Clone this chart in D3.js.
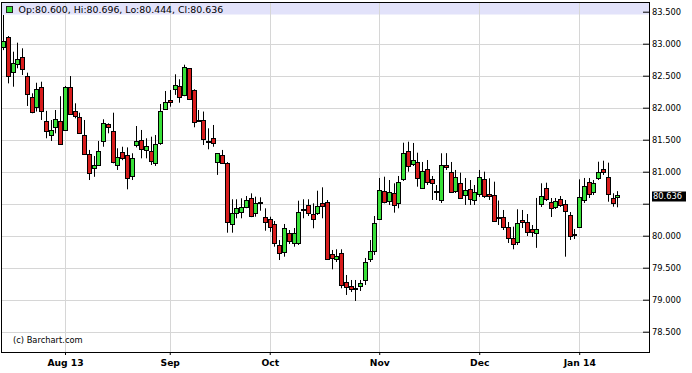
<!DOCTYPE html>
<html>
<head>
<meta charset="utf-8">
<script src="https://cdn.jsdelivr.net/npm/d3@7"></script>
<style>
  body { margin: 0; background: #fff; }
  text { font-family: "DejaVu Sans", Verdana, sans-serif; }
</style>
</head>
<body>
<script>
// daily OHLC, one bar per trading day starting Mon 15 Jul 2013
var startDay = '2013-07-15';
var holidays = ['2013-12-25', '2014-01-01'];

var open = [
  82.953, 83.100, 82.553, 82.683, 82.788, 82.495, 82.163, 82.006, 82.328, 81.797,
  81.569, 81.694, 81.797, 81.663, 82.328, 81.944, 81.850, 81.569, 81.275, 81.058,
  81.100, 81.480, 81.740, 81.636, 81.116, 81.303, 81.256, 80.922, 81.413, 81.495,
  81.328, 81.328, 81.131, 81.444, 81.975, 82.116, 82.288, 82.339, 82.194, 82.616,
  82.277, 81.808, 81.808, 81.480, 81.527, 81.141, 81.261, 81.141, 80.183, 80.350,
  80.375, 80.444, 80.594, 80.350, 80.516, 80.288, 80.256, 80.183, 79.855, 79.735,
  80.038, 79.891, 79.881, 80.402, 80.480, 80.339, 80.350, 80.516, 80.531, 79.714,
  79.641, 79.725, 79.272, 79.214, 79.178, 79.214, 79.319, 79.631, 79.750, 80.256,
  80.699, 80.542, 80.663, 80.516, 80.881, 81.328, 81.121, 81.156, 80.756, 81.038,
  80.881, 80.703, 80.558, 81.105, 80.999, 80.688, 80.828, 80.636, 80.725, 80.569,
  80.647, 80.881, 80.647, 80.636, 80.292, 80.288, 80.131, 79.969, 79.894, 80.245,
  80.214, 80.100, 80.031, 80.488, 80.741, 80.531, 80.444, 80.569, 80.495, 80.319,
  80.011, 80.141, 80.558, 80.844, 80.672, 80.913, 81.038, 80.913, 80.585, 80.600
];
var high = [
  83.449, 83.120, 82.875, 83.016, 82.928, 82.547, 82.225, 82.390, 82.406, 81.950,
  81.808, 81.964, 82.180, 82.340, 82.495, 82.069, 81.922, 81.808, 81.340, 81.245,
  81.480, 81.819, 81.756, 81.922, 81.366, 81.390, 81.380, 81.288, 81.714, 81.652,
  81.522, 81.547, 81.573, 82.058, 82.261, 82.277, 82.522, 82.444, 82.672, 82.620,
  82.288, 81.964, 81.940, 81.678, 81.730, 81.290, 81.340, 81.150, 80.569, 80.569,
  80.584, 80.620, 80.662, 80.610, 80.600, 80.428, 80.297, 80.230, 79.933, 80.183,
  80.089, 80.120, 80.547, 80.569, 80.569, 80.506, 80.703, 80.756, 80.558, 79.777,
  79.788, 79.788, 79.386, 79.308, 79.308, 79.308, 79.652, 79.933, 80.308, 80.902,
  80.922, 80.870, 80.819, 80.933, 81.453, 81.469, 81.449, 81.297, 81.152, 81.183,
  80.933, 80.792, 81.288, 81.290, 81.152, 81.027, 80.985, 80.902, 80.870, 80.792,
  81.027, 81.000, 80.897, 80.844, 80.550, 80.402, 80.214, 80.141, 80.413, 80.402,
  80.339, 80.167, 80.590, 80.819, 80.828, 80.589, 80.589, 80.620, 80.558, 80.370,
  80.105, 80.881, 80.902, 80.902, 80.870, 81.156, 81.172, 81.141, 80.663, 80.696
];
var low = [
  82.900, 82.380, 82.328, 82.616, 82.511, 82.027, 81.913, 81.940, 81.808, 81.522,
  81.480, 81.600, 81.428, 81.650, 81.886, 81.834, 81.590, 81.261, 80.870, 80.920,
  81.090, 81.390, 81.600, 81.131, 81.027, 81.180, 80.725, 80.870, 81.380, 81.209,
  81.209, 81.105, 81.090, 81.420, 81.970, 82.016, 82.200, 82.078, 82.180, 82.120,
  81.694, 81.777, 81.417, 81.350, 81.390, 80.950, 81.130, 80.047, 80.047, 80.272,
  80.272, 80.430, 80.290, 80.297, 80.390, 80.078, 80.060, 79.828, 79.620, 79.672,
  79.870, 79.828, 79.855, 80.272, 80.308, 80.116, 80.324, 80.272, 79.621, 79.475,
  79.589, 79.178, 79.074, 79.120, 78.980, 79.136, 79.230, 79.589, 79.699, 80.245,
  80.506, 80.480, 80.360, 80.428, 80.855, 81.000, 81.089, 80.766, 80.745, 80.792,
  80.558, 80.558, 80.511, 81.027, 80.667, 80.667, 80.589, 80.480, 80.480, 80.480,
  80.605, 80.590, 80.558, 80.214, 80.167, 80.089, 79.886, 79.788, 79.855, 80.120,
  79.995, 79.980, 79.810, 80.449, 80.542, 80.292, 80.417, 80.449, 79.672, 79.933,
  79.948, 80.120, 80.511, 80.589, 80.636, 80.870, 80.949, 80.531, 80.453, 80.444
];
var close = [
  83.047, 82.495, 82.694, 82.766, 82.600, 82.209, 81.922, 82.288, 81.953, 81.641,
  81.652, 81.819, 81.444, 82.328, 81.902, 81.859, 81.600, 81.277, 80.975, 81.110,
  81.319, 81.756, 81.700, 81.147, 81.234, 81.214, 80.897, 81.209, 81.480, 81.350,
  81.397, 81.167, 81.428, 81.950, 82.089, 82.078, 82.355, 82.172, 82.631, 82.136,
  81.780, 81.800, 81.506, 81.482, 81.444, 81.288, 81.141, 80.219, 80.359, 80.428,
  80.453, 80.558, 80.313, 80.506, 80.522, 80.203, 80.131, 79.891, 79.735, 80.116,
  79.906, 80.047, 80.370, 80.410, 80.350, 80.256, 80.464, 80.464, 79.647, 79.647,
  79.683, 79.230, 79.188, 79.167, 79.183, 79.256, 79.594, 79.761, 80.194, 80.714,
  80.531, 80.688, 80.480, 80.844, 81.288, 81.089, 81.183, 80.913, 81.016, 80.828,
  80.819, 80.706, 81.100, 81.078, 80.688, 80.913, 80.600, 80.714, 80.569, 80.688,
  80.913, 80.610, 80.610, 80.225, 80.288, 80.131, 79.960, 79.881, 80.194, 80.210,
  80.063, 80.050, 80.100, 80.613, 80.569, 80.444, 80.538, 80.480, 80.386, 79.985,
  80.019, 80.610, 80.777, 80.656, 80.819, 81.000, 80.988, 80.647, 80.506, 80.636
];

var yTicks = [78.5, 79, 79.5, 80, 80.5, 81, 81.5, 82, 82.5, 83, 83.5];
var monthTicks = ['2013-08-01', '2013-09-02', '2013-10-01', '2013-11-01', '2013-12-02', '2014-01-02'];
var monthLabels = ['Aug 13', 'Sep', 'Oct', 'Nov', 'Dec', 'Jan 14'];

// trading-day keys (weekdays minus holidays), one per bar
var fmt = d3.utcFormat('%Y-%m-%d');
var dates = [];
var day = new Date(startDay + 'T00:00:00Z');
while (dates.length < close.length) {
  var wd = day.getUTCDay();
  if (wd !== 0 && wd !== 6 && holidays.indexOf(fmt(day)) < 0) dates.push(fmt(day));
  day = d3.utcDay.offset(day, 1);
}

var bars = dates.map(function(d, i) {
  return { date: d, o: open[i], h: high[i], l: low[i], c: close[i] };
});

var width = 692, height = 373;
var frame = { left: 1.5, top: 2.5, right: 649.5, bottom: 352.5 };

var svg = d3.select('body').append('svg')
  .attr('width', width)
  .attr('height', height);

var x = d3.scalePoint().domain(dates).range([3.1, 617.3]);
var y = d3.scaleLinear().domain([78.5, 83.5]).range([331.7, 11.7]);

var px = function(v) { return Math.round(v) + 0.5; };
var f3 = d3.format('.3f');
var last = bars[bars.length - 1];

// horizontal grid
svg.append('g').selectAll('line')
  .data(yTicks)
  .enter().append('line')
  .attr('x1', frame.left).attr('x2', frame.right)
  .attr('y1', function(d) { return px(y(d)); })
  .attr('y2', function(d) { return px(y(d)); })
  .attr('stroke', '#d6d6d6');

// quote band at the top
svg.append('rect')
  .attr('x', frame.left).attr('y', frame.top)
  .attr('width', frame.right - frame.left).attr('height', 12)
  .attr('fill', '#e2e2fa');

// vertical grid at month starts
svg.append('g').selectAll('line')
  .data(monthTicks)
  .enter().append('line')
  .attr('x1', function(d) { return px(x(d)); })
  .attr('x2', function(d) { return px(x(d)); })
  .attr('y1', frame.top).attr('y2', frame.bottom)
  .attr('stroke', '#d6d6d6');

// candles
var candle = svg.append('g').selectAll('g')
  .data(bars)
  .enter().append('g');

candle.append('line')
  .attr('x1', function(d) { return px(x(d.date)); })
  .attr('x2', function(d) { return px(x(d.date)); })
  .attr('y1', function(d) { return y(d.h); })
  .attr('y2', function(d) { return y(d.l); })
  .attr('stroke', '#000');

candle.append('rect')
  .attr('x', function(d) { return px(x(d.date)) - 2; })
  .attr('y', function(d) { return Math.round(y(Math.max(d.o, d.c))) + 0.5; })
  .attr('width', 4)
  .attr('height', function(d) {
    return Math.max(1, Math.round(Math.abs(y(d.o) - y(d.c))));
  })
  .attr('fill', function(d) { return d.c >= d.o ? '#38e038' : '#d81c1c'; })
  .attr('stroke', '#000');

// plot frame
svg.append('rect')
  .attr('x', frame.left).attr('y', frame.top)
  .attr('width', frame.right - frame.left)
  .attr('height', frame.bottom - frame.top)
  .attr('fill', 'none')
  .attr('stroke', '#000');

// price axis on the right
var yAxis = d3.axisRight(y)
  .tickValues(yTicks)
  .tickFormat(f3)
  .tickSizeInner(-6)
  .tickSizeOuter(0)
  .tickPadding(3);

var gy = svg.append('g')
  .attr('transform', 'translate(' + (frame.right - 0.5) + ',0)')
  .call(yAxis);
gy.select('.domain').remove();
gy.selectAll('text')
  .attr('font-family', '"DejaVu Sans", Verdana, sans-serif')
  .attr('font-size', 8.3)
  .attr('fill', '#000');
// the last-price tag covers the label next to it
gy.selectAll('.tick')
  .filter(function(d) { return Math.abs(y(d) - (y(last.c) + 1.5)) < 10; })
  .select('text').remove();

// date axis
var xAxis = d3.axisBottom(x)
  .tickValues(monthTicks)
  .tickFormat(function(d) { return monthLabels[monthTicks.indexOf(d)]; })
  .tickSizeInner(3)
  .tickSizeOuter(0)
  .tickPadding(4);

var gx = svg.append('g')
  .attr('transform', 'translate(0,' + (frame.bottom - 0.5) + ')')
  .call(xAxis);
gx.select('.domain').remove();
gx.selectAll('text')
  .attr('font-family', '"DejaVu Sans", Verdana, sans-serif')
  .attr('font-size', 9.2)
  .attr('font-weight', 'bold')
  .attr('fill', '#000');

// last price tag
svg.append('rect')
  .attr('x', 652).attr('y', y(last.c) - 3.5)
  .attr('width', 34).attr('height', 10)
  .attr('fill', '#000');
svg.append('text')
  .attr('x', 653).attr('y', y(last.c) + 1.5)
  .attr('dy', '0.35em')
  .attr('font-size', 8.3)
  .attr('fill', '#fff')
  .text(f3(last.c));

// quote header
svg.append('rect')
  .attr('x', 6.5).attr('y', 6.5)
  .attr('width', 6).attr('height', 6)
  .attr('fill', last.c >= last.o ? '#38e038' : '#d81c1c')
  .attr('stroke', '#222');

svg.append('text')
  .attr('x', 18.5).attr('y', 13.3)
  .attr('font-size', 9.4)
  .attr('fill', '#000')
  .text('Op:' + f3(last.o) + ', Hi:' + f3(last.h) + ', Lo:' + f3(last.l) + ', Cl:' + f3(last.c));

svg.append('text')
  .attr('x', 13).attr('y', 342.5)
  .attr('font-size', 8.3)
  .attr('fill', '#000')
  .text('(c) Barchart.com');
</script>
</body>
</html>
